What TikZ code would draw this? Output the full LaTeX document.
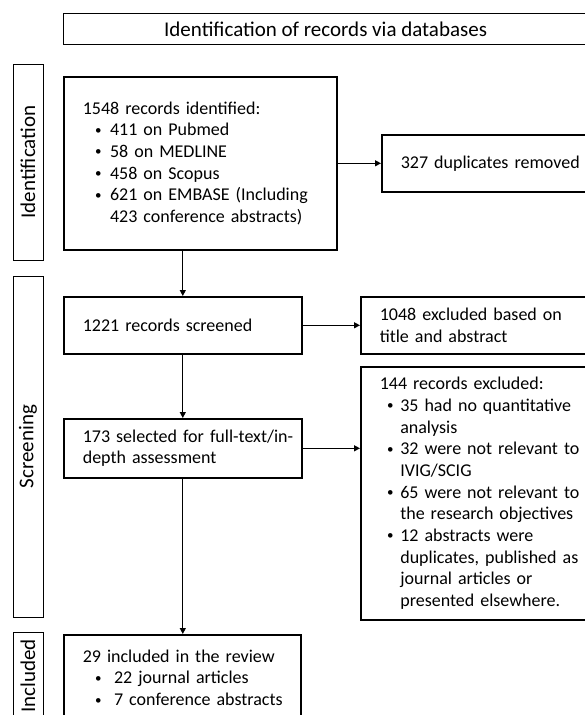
\documentclass[tikz,border=0pt]{standalone}
\usepackage{fontspec}
\setmainfont{Carlito}
\usetikzlibrary{arrows.meta}
\newcommand{\smallbul}{\raisebox{1.6pt}{\fontsize{13}{13}\selectfont •}}
\newcommand{\bitem}[2]{\hspace*{#1}\makebox[#2][l]{\smallbul}}
\newcommand{\bA}{\bitem{12.4pt}{14.9pt}}
\newcommand{\bB}{\bitem{7.2pt}{13.3pt}}
\newcommand{\bC}{\bitem{12.4pt}{18.9pt}}
\tikzset{
  body/.style={font=\fontsize{18}{21.7}\selectfont},
  mainbox/.style={draw=black, line width=1.6pt, body, align=left,
    inner xsep=19pt, inner ysep=0pt, anchor=north west},
  sidebox/.style={draw=black, line width=0.9pt, rotate=90,
    font=\fontsize{21}{25}\selectfont, inner sep=0pt},
  titlebox/.style={draw=black, line width=1.2pt,
    font=\fontsize{21}{25}\selectfont, inner sep=0pt, anchor=north west},
  arr/.style={line width=1.3pt, -{Triangle[length=6pt,width=6pt]}}
}
\begin{document}
\begin{tikzpicture}[x=1pt,y=-1pt]
\useasboundingbox (0,0) rectangle (585,715);
\clip (0,0) rectangle (585,715);
\fill[white] (0,0) rectangle (585,715);
% title
\node[titlebox, minimum width=524pt, minimum height=31pt] (title) at (63,13) {Identification of records via databases};
% side labels
\node[sidebox, minimum width=196pt, minimum height=30pt] (sid) at (28,162) {Identification};
\node[sidebox, minimum width=341pt, minimum height=30pt] (sscr) at (28,446.5) {Screening};
\node[sidebox, minimum width=87pt, minimum height=30pt] (sinc) at (28,676) {Included};
% main boxes
\node[mainbox, minimum width=273pt, minimum height=173pt, text width=235pt] (b1) at (63,76)
  {1548 records identified:\\
   \bA 411 on Pubmed\\
   \bA 58 on MEDLINE\\
   \bA 458 on Scopus\\
   \bA\mbox{621 on EMBASE (Including}\\
   \hspace*{27.3pt}\mbox{423 conference abstracts)}};
\node[mainbox, minimum width=239pt, minimum height=57pt, text width=201pt] (dup) at (381,134)
  {327 duplicates removed};
\node[mainbox, minimum width=238pt, minimum height=57pt, text width=200pt] (b2) at (63,296)
  {1221 records screened};
\node[mainbox, minimum width=260pt, minimum height=57pt, text width=222pt] (ex1) at (360,296)
  {1048 excluded based on\\title and abstract};
\node[mainbox, minimum width=238pt, minimum height=59pt, text width=200pt] (b3) at (63,418)
  {\mbox{173 selected for full-text/in-}\\depth assessment};
\node[mainbox, minimum width=260pt, minimum height=253pt, text width=222pt] (ex2) at (360,366)
  {144 records excluded:\\
   \bB\mbox{35 had no quantitative}\\
   \hspace*{20.5pt}analysis\\
   \bB\mbox{32 were not relevant to}\\
   \hspace*{20.5pt}IVIG/SCIG\\
   \bB\mbox{65 were not relevant to}\\
   \hspace*{20.5pt}\mbox{the research objectives}\\
   \bB\mbox{12 abstracts were}\\
   \hspace*{20.5pt}\mbox{duplicates, published as}\\
   \hspace*{20.5pt}\mbox{journal articles or}\\
   \hspace*{20.5pt}\mbox{presented elsewhere.}};
\node[mainbox, minimum width=237pt, minimum height=86pt, text width=199pt] (b4) at (63,634)
  {\mbox{29 included in the review}\\
   \bC\mbox{22 journal articles}\\
   \bC\mbox{7 conference abstracts}};
% connectors
\draw[arr] (b2.north |- b1.south) -- (b2.north);
\draw[arr] (b2.south) -- (b3.north);
\draw[arr] (b3.south) -- (b3.south |- b4.north);
\draw[arr] (b1.east) -- (dup.west);
\draw[arr] (b2.east) -- (ex1.west);
\draw[arr] (b3.east) -- (b3.east -| ex2.west);
\end{tikzpicture}
\end{document}
